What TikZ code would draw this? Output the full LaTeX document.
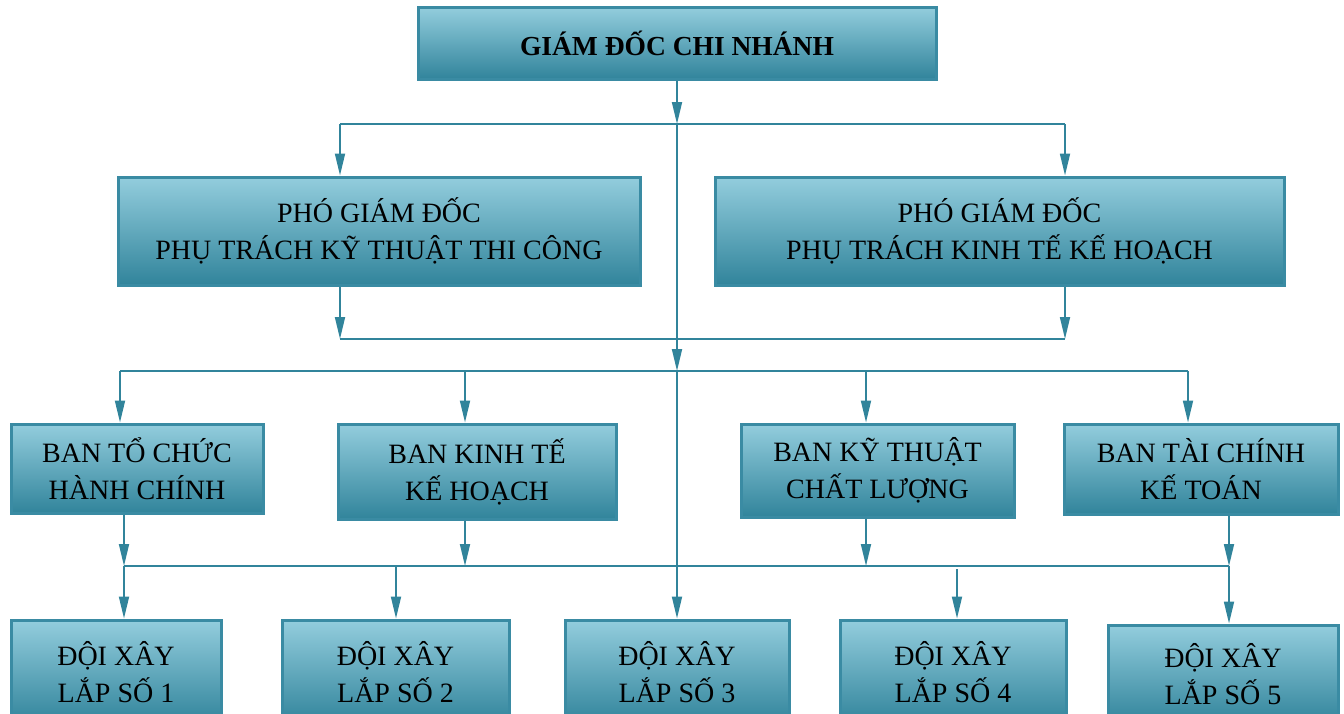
\documentclass[tikz,border=0pt]{standalone}
\usepackage{fontspec}
\setmainfont{Liberation Serif}
\usetikzlibrary{arrows.meta}
\definecolor{boxtop}{RGB}{147,205,221}
\definecolor{boxbot}{RGB}{49,132,155}
\definecolor{boxline}{RGB}{58,139,163}
\definecolor{conn}{RGB}{49,132,155}
\begin{document}
\begin{tikzpicture}[x=1pt, y=-1pt,
    box/.style={draw=boxline, line width=3pt, top color=boxtop, bottom color=boxbot,
        align=center, inner sep=0pt, font=\fontsize{28}{37}\selectfont},
    con/.style={draw=conn, line width=1.8pt},
    arr/.style={con, -{Triangle[length=22pt,width=10pt]}}]
    \useasboundingbox (0,0) rectangle (1344,713);
    % boxes
    \node[box, minimum width=518, minimum height=72, font=\fontsize{27.5}{34}\selectfont\bfseries] (gd) at (677,43) {GIÁM ĐỐC CHI NHÁNH};
    \node[box, minimum width=522, minimum height=108] (pgdkt) at (379,231) {PHÓ GIÁM ĐỐC\\PHỤ TRÁCH KỸ THUẬT THI CÔNG};
    \node[box, minimum width=569, minimum height=108] (pgdkh) at (999.5,231) {PHÓ GIÁM ĐỐC\\PHỤ TRÁCH KINH TẾ KẾ HOẠCH};
    \node[box, minimum width=252, minimum height=89] (bhc) at (137,468.5) {BAN TỔ CHỨC\\HÀNH CHÍNH};
    \node[box, minimum width=278, minimum height=95] (bkh) at (477,471.5) {BAN KINH TẾ\\KẾ HOẠCH};
    \node[box, minimum width=273, minimum height=93] (bcl) at (877.5,470.5) {BAN KỸ THUẬT\\CHẤT LƯỢNG};
    \node[box, minimum width=274, minimum height=90] (bkt) at (1201,469) {BAN TÀI CHÍNH\\KẾ TOÁN};
    \node[box, minimum width=210, minimum height=104] (d1) at (116,672) {ĐỘI XÂY\\LẮP SỐ 1};
    \node[box, minimum width=227, minimum height=104] (d2) at (395.5,672) {ĐỘI XÂY\\LẮP SỐ 2};
    \node[box, minimum width=224, minimum height=104] (d3) at (677,672) {ĐỘI XÂY\\LẮP SỐ 3};
    \node[box, minimum width=226, minimum height=104] (d4) at (953,672) {ĐỘI XÂY\\LẮP SỐ 4};
    \node[box, minimum width=230, minimum height=99] (d5) at (1223,674.5) {ĐỘI XÂY\\LẮP SỐ 5};
    % junctions
    \coordinate (t0) at (677,124);
    \coordinate (tl) at (340,124);
    \coordinate (tr) at (1065,124);
    \coordinate (ml) at (340,339);
    \coordinate (mr) at (1065,339);
    \coordinate (m0) at (677,371);
    \coordinate (ml2) at (120,371);
    \coordinate (mr2) at (1188,371);
    \coordinate (bl) at (124,566);
    \coordinate (br) at (1229,566);
    % giam doc -> pho giam doc
    \draw[arr] (gd.south) -- (t0);
    \draw[con] (tl) -- (tr);
    \draw[arr] (tl) -- (tl |- pgdkt.north);
    \draw[arr] (tr) -- (tr |- pgdkh.north);
    \draw[arr] (t0) -- (m0);
    % pho giam doc -> ban
    \draw[arr] (pgdkt.south -| ml) -- (ml);
    \draw[arr] (pgdkh.south -| mr) -- (mr);
    \draw[con] (ml) -- (mr);
    \draw[con] (ml2) -- (mr2);
    \draw[arr] (ml2) -- (ml2 |- bhc.north);
    \draw[arr] (465,371) -- (465,371 |- bkh.north);
    \draw[arr] (866,371) -- (866,371 |- bcl.north);
    \draw[arr] (mr2) -- (mr2 |- bkt.north);
    % ban -> doi xay lap
    \draw[arr] (bhc.south -| bl) -- (bl);
    \draw[arr] (bkh.south -| 465,0) -- (465,566);
    \draw[arr] (bcl.south -| 866,0) -- (866,566);
    \draw[arr] (bkt.south -| br) -- (br);
    \draw[con] (bl) -- (br);
    \draw[arr] (m0) -- (d3.north);
    \draw[arr] (bl) -- (bl |- d1.north);
    \draw[arr] (396,566) -- (396,566 |- d2.north);
    \draw[arr] (957,569) -- (957,569 |- d4.north);
    \draw[arr] (br) -- (br |- d5.north);
\end{tikzpicture}
\end{document}
